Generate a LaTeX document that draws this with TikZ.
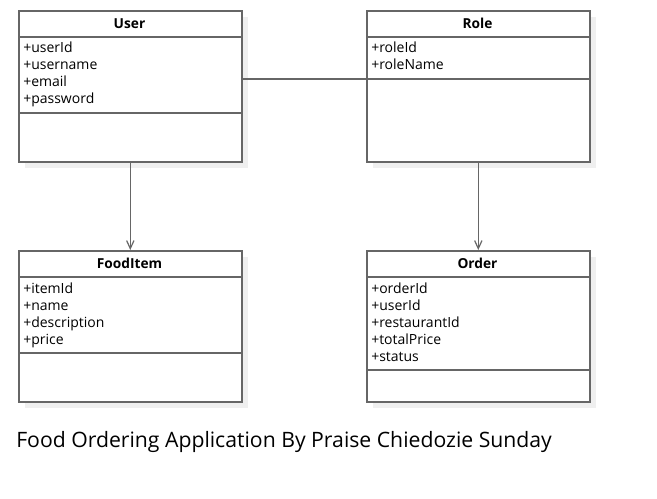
\documentclass[tikz,border=0pt]{standalone}
\usepackage{fontspec}
\setmainfont{Open Sans}
\usetikzlibrary{arrows.meta}
\definecolor{ln}{HTML}{666666}
\definecolor{shd}{HTML}{EFEFEF}
\tikzset{
  classbox/.style={draw=ln, line width=1.2pt, fill=white, rectangle, anchor=north west,
    minimum width=167.25pt, minimum height=113.25pt, inner sep=0pt},
  shadowbox/.style={fill=shd, draw=none},
  divider/.style={draw=ln, line width=1.2pt},
  hdr/.style={font=\fontsize{10.3}{12}\selectfont\bfseries, inner sep=0pt, anchor=base},
  attr/.style={font=\fontsize{10.5}{12}\selectfont, inner sep=0pt, anchor=base west},
  conn/.style={draw=ln, line width=1.1pt},
  arr/.style={conn, -{Straight Barb[length=6pt, width=5.5pt, line width=0.9pt]}},
  ttl/.style={font=\fontsize{15.9}{19}\selectfont, inner sep=0pt, anchor=base west}
}
\begin{document}
\begin{tikzpicture}[x=0.75pt,y=-0.75pt]
\useasboundingbox[fill=white] (0,0) rectangle (657,499);
% shadows
\fill[shadowbox] (25,17) rectangle (248,168);
\fill[shadowbox] (373,17) rectangle (596,168);
\fill[shadowbox] (25,257) rectangle (248,408);
\fill[shadowbox] (373,257) rectangle (596,408);
% boxes
\node[classbox] (user) at (18,10) {};
\node[classbox] (role) at (366,10) {};
\node[classbox] (food) at (18,250) {};
\node[classbox] (order) at (366,250) {};
% dividers
\draw[divider] (18,37) -- (241,37);
\draw[divider] (18,113) -- (241,113);
\draw[divider] (366,37) -- (589,37);
\draw[divider] (366,79) -- (589,79);
\draw[divider] (18,277) -- (241,277);
\draw[divider] (18,353) -- (241,353);
\draw[divider] (366,277) -- (589,277);
\draw[divider] (366,370) -- (589,370);
% headers
\node[hdr] (userT) at (129.5,28.5) {User};
\node[hdr] (roleT) at (477.5,28.5) {Role};
\node[hdr] (foodT) at (129.5,268.5) {FoodItem};
\node[hdr] (orderT) at (477.5,268.5) {Order};
% attributes
\node[attr] (u1) at (23,53) {+userId};
\node[attr] (u2) at (23,70) {+username};
\node[attr] (u3) at (23,87) {+email};
\node[attr] (u4) at (23,104) {+password};
\node[attr] (r1) at (371,53) {+roleId};
\node[attr] (r2) at (371,70) {+roleName};
\node[attr] (f1) at (23,293) {+itemId};
\node[attr] (f2) at (23,310) {+name};
\node[attr] (f3) at (23,327) {+description};
\node[attr] (f4) at (23,344) {+price};
\node[attr] (o1) at (371,293) {+orderId};
\node[attr] (o2) at (371,310) {+userId};
\node[attr] (o3) at (371,327) {+restaurantId};
\node[attr] (o4) at (371,344) {+totalPrice};
\node[attr] (o5) at (371,361) {+status};
% connectors
\coordinate (ua) at (241,79);
\coordinate (ra) at (366,79);
\draw[conn] (ua) -- (ra);
\draw[arr] (user.south) -- (food.north);
\draw[arr] (role.south) -- (order.north);
% title
\node[ttl] (title) at (16,447.5) {Food Ordering Application By Praise Chiedozie Sunday};
\end{tikzpicture}
\end{document}
